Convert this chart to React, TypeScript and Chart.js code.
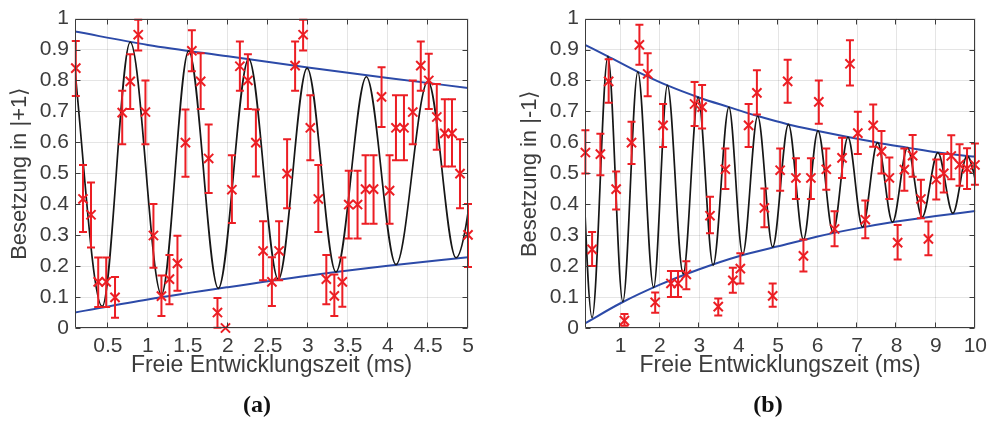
import React, { useEffect, useRef } from 'react';
import { Chart, registerables } from 'chart.js';

Chart.register(...registerables);

// ---------- Panel (a): |+1> ----------
const timeA = [0.1, 0.19, 0.29, 0.38, 0.48, 0.59, 0.68, 0.78, 0.88, 0.97, 1.07, 1.17, 1.27, 1.37, 1.47, 1.55, 1.66, 1.76, 1.87, 1.97, 2.05, 2.15, 2.25, 2.35, 2.44, 2.55, 2.64, 2.74, 2.84, 2.94, 3.03, 3.13, 3.23, 3.33, 3.43, 3.51, 3.62, 3.72, 3.82, 3.92, 4.02, 4.1, 4.2, 4.31, 4.41, 4.51, 4.61, 4.71, 4.8, 4.9, 5.0];
const popA = [0.84, 0.417, 0.366, 0.149, 0.149, 0.099, 0.696, 0.797, 0.948, 0.698, 0.299, 0.103, 0.158, 0.209, 0.599, 0.896, 0.797, 0.548, 0.05, 0.0, 0.447, 0.846, 0.8, 0.599, 0.249, 0.149, 0.249, 0.499, 0.848, 0.948, 0.647, 0.417, 0.158, 0.104, 0.149, 0.399, 0.399, 0.449, 0.449, 0.747, 0.444, 0.647, 0.647, 0.698, 0.848, 0.8, 0.682, 0.629, 0.629, 0.499, 0.301];
const errHiA = [0.928, 0.527, 0.47, 0.228, 0.228, 0.165, 0.767, 0.885, 0.996, 0.8, 0.401, 0.17, 0.236, 0.298, 0.706, 0.962, 0.888, 0.658, 0.097, 0.0, 0.558, 0.926, 0.885, 0.706, 0.345, 0.229, 0.345, 0.61, 0.926, 0.996, 0.752, 0.527, 0.236, 0.173, 0.228, 0.508, 0.508, 0.558, 0.558, 0.843, 0.558, 0.752, 0.752, 0.8, 0.926, 0.886, 0.789, 0.739, 0.739, 0.61, 0.401];
const errLoA = [0.75, 0.31, 0.26, 0.068, 0.068, 0.033, 0.594, 0.708, 0.897, 0.594, 0.195, 0.039, 0.077, 0.12, 0.489, 0.83, 0.708, 0.436, 0.001, 0.0, 0.339, 0.767, 0.708, 0.49, 0.154, 0.071, 0.154, 0.387, 0.767, 0.897, 0.542, 0.31, 0.077, 0.039, 0.069, 0.289, 0.289, 0.337, 0.337, 0.65, 0.337, 0.542, 0.542, 0.594, 0.767, 0.708, 0.576, 0.522, 0.522, 0.387, 0.197];
// fit curve: extrema
const fitTimeA = [0.05, 0.43, 0.78, 1.17, 1.51, 1.88, 2.26, 2.63, 2.99, 3.35, 3.73, 4.1, 4.5, 4.85, 5.22];
const fitPopA = [0.935, 0.07, 0.924, 0.108, 0.896, 0.128, 0.87, 0.157, 0.84, 0.181, 0.812, 0.205, 0.797, 0.227, 0.778];
const envTimeA = [0.09, 1, 2, 3, 4, 5];
const envUpperA = [0.958, 0.915, 0.878, 0.842, 0.808, 0.776];
const envLowerA = [0.05, 0.092, 0.132, 0.169, 0.201, 0.229];
const xTicksA = [0.5, 1, 1.5, 2, 2.5, 3, 3.5, 4, 4.5, 5];

// ---------- Panel (b): |-1> ----------
const timeB = [0.11, 0.28, 0.49, 0.7, 0.89, 1.1, 1.28, 1.48, 1.69, 1.88, 2.08, 2.28, 2.46, 2.67, 2.88, 3.07, 3.27, 3.48, 3.66, 3.85, 4.04, 4.25, 4.46, 4.65, 4.86, 5.05, 5.24, 5.45, 5.64, 5.83, 6.03, 6.22, 6.43, 6.62, 6.82, 7.02, 7.21, 7.41, 7.62, 7.82, 8.03, 8.2, 8.41, 8.62, 8.81, 9.01, 9.2, 9.39, 9.6, 9.79, 9.99];
const popB = [0.567, 0.254, 0.562, 0.797, 0.449, 0.024, 0.599, 0.915, 0.821, 0.083, 0.655, 0.144, 0.144, 0.173, 0.724, 0.714, 0.363, 0.069, 0.513, 0.154, 0.192, 0.655, 0.76, 0.388, 0.104, 0.51, 0.797, 0.485, 0.233, 0.485, 0.731, 0.513, 0.32, 0.55, 0.854, 0.63, 0.35, 0.655, 0.571, 0.485, 0.276, 0.512, 0.557, 0.417, 0.288, 0.48, 0.5, 0.556, 0.528, 0.515, 0.527];
const errHiB = [0.639, 0.31, 0.628, 0.869, 0.506, 0.045, 0.667, 0.98, 0.888, 0.115, 0.724, 0.184, 0.184, 0.216, 0.795, 0.785, 0.424, 0.095, 0.58, 0.195, 0.242, 0.724, 0.833, 0.451, 0.144, 0.58, 0.867, 0.549, 0.286, 0.549, 0.8, 0.58, 0.377, 0.615, 0.93, 0.699, 0.412, 0.722, 0.637, 0.551, 0.333, 0.58, 0.624, 0.479, 0.344, 0.545, 0.562, 0.623, 0.594, 0.581, 0.596];
const errLoB = [0.499, 0.2, 0.494, 0.728, 0.383, 0.007, 0.53, 0.851, 0.749, 0.049, 0.585, 0.1, 0.1, 0.125, 0.653, 0.645, 0.306, 0.04, 0.449, 0.114, 0.144, 0.585, 0.69, 0.326, 0.069, 0.444, 0.728, 0.417, 0.183, 0.417, 0.66, 0.447, 0.264, 0.485, 0.784, 0.562, 0.29, 0.586, 0.499, 0.417, 0.221, 0.444, 0.489, 0.355, 0.235, 0.415, 0.438, 0.481, 0.46, 0.449, 0.463];
const fitTimeB = [-0.08, 0.28, 0.68, 1.06, 1.44, 1.84, 2.19, 2.59, 2.97, 3.35, 3.75, 4.1, 4.48, 4.86, 5.26, 5.64, 6.01, 6.39, 6.77, 7.14, 7.52, 7.9, 8.28, 8.65, 9.05, 9.43, 9.79, 10.17];
const fitPopB = [0.93, 0.034, 0.878, 0.085, 0.828, 0.131, 0.784, 0.175, 0.746, 0.203, 0.714, 0.238, 0.685, 0.262, 0.658, 0.286, 0.637, 0.31, 0.617, 0.326, 0.599, 0.342, 0.583, 0.358, 0.567, 0.371, 0.556, 0.38];
const envUpperTimeB = [0.1, 0.68, 1.44, 2.19, 2.97, 3.75, 4.48, 5.26, 6.01, 6.77, 7.52, 8.28, 9.05, 9.79, 10];
const envUpperB = [0.915, 0.878, 0.828, 0.784, 0.746, 0.714, 0.685, 0.658, 0.637, 0.617, 0.599, 0.583, 0.567, 0.556, 0.554];
const envLowerTimeB = [0.1, 1, 2, 3, 4, 5, 6, 7, 8, 9, 10];
const envLowerB = [0.015, 0.08, 0.14, 0.19, 0.232, 0.264, 0.296, 0.322, 0.344, 0.362, 0.378];
const xTicksB = [1, 2, 3, 4, 5, 6, 7, 8, 9, 10];

const yTicks = [0, 0.1, 0.2, 0.3, 0.4, 0.5, 0.6, 0.7, 0.8, 0.9, 1];
const xLabel = 'Freie Entwicklungszeit (ms)';

const RED = 'rgb(236,30,36)';
const BLUE = 'rgb(44,74,168)';
const BLACK = '#161616';
const AXIS = '#3c3c3c';
const FONT = "'Liberation Sans', Arial, sans-serif";

type PanelSpec = {
  left: number;
  xMin: number;
  xMax: number;
  xTicks: number[];
  yLabel: string;
  t: number[]; p: number[]; hi: number[]; lo: number[];
  fitT: number[]; fitP: number[];
  upT: number[]; upP: number[];
  lowT: number[]; lowP: number[];
  caption: string;
  captionX: number;
};

const panels: PanelSpec[] = [
  {
    left: 0, xMin: 0.09, xMax: 5, xTicks: xTicksA, yLabel: 'Besetzung in |+1⟩',
    t: timeA, p: popA, hi: errHiA, lo: errLoA,
    fitT: fitTimeA, fitP: fitPopA,
    upT: envTimeA, upP: envUpperA, lowT: envTimeA, lowP: envLowerA,
    caption: '(a)', captionX: 257,
  },
  {
    left: 510, xMin: 0.1, xMax: 10, xTicks: xTicksB, yLabel: 'Besetzung in |-1⟩',
    t: timeB, p: popB, hi: errHiB, lo: errLoB,
    fitT: fitTimeB, fitP: fitPopB,
    upT: envUpperTimeB, upP: envUpperB, lowT: envLowerTimeB, lowP: envLowerB,
    caption: '(b)', captionX: 768,
  },
];

const zip = (xs: number[], ys: number[]) => xs.map((x, i) => ({ x, y: ys[i] }));

function Panel({ spec }: { spec: PanelSpec }) {
  const ref = useRef<HTMLCanvasElement>(null);
  useEffect(() => {
    const errorBars = {
      id: 'errorBars',
      afterDatasetsDraw(chart: any) {
        const { ctx, scales } = chart;
        ctx.save();
        ctx.strokeStyle = RED;
        ctx.lineWidth = 2;
        spec.t.forEach((tv, i) => {
          const x = scales.x.getPixelForValue(tv);
          const y1 = scales.y.getPixelForValue(spec.hi[i]);
          const y2 = scales.y.getPixelForValue(spec.lo[i]);
          if (Math.abs(y2 - y1) < 0.5) return;
          ctx.beginPath();
          ctx.moveTo(x, y1); ctx.lineTo(x, y2);
          ctx.moveTo(x - 4, y1); ctx.lineTo(x + 4, y1);
          ctx.moveTo(x - 4, y2); ctx.lineTo(x + 4, y2);
          ctx.stroke();
        });
        ctx.restore();
      },
    };
    const box = {
      id: 'box',
      afterDraw(chart: any) {
        const { ctx, chartArea: a, scales } = chart;
        ctx.save();
        ctx.strokeStyle = AXIS;
        ctx.lineWidth = 1;
        const L = Math.round(a.left) + 0.5, R = Math.round(a.right) - 0.5;
        const T = Math.round(a.top) + 0.5, B = Math.round(a.bottom) - 0.5;
        ctx.beginPath();
        ctx.rect(L, T, R - L, B - T);
        spec.xTicks.forEach((v) => {
          const x = Math.round(scales.x.getPixelForValue(v)) - 0.5;
          ctx.moveTo(x, B); ctx.lineTo(x, B - 5);
          ctx.moveTo(x, T); ctx.lineTo(x, T + 5);
        });
        yTicks.forEach((v) => {
          const y = Math.round(scales.y.getPixelForValue(v)) + 0.5;
          ctx.moveTo(L, y); ctx.lineTo(L + 5, y);
          ctx.moveTo(R, y); ctx.lineTo(R - 5, y);
        });
        ctx.stroke();
        ctx.restore();
      },
    };
    const chart = new Chart(ref.current!, {
      type: 'scatter',
      data: {
        datasets: [
          {
            type: 'scatter',
            data: zip(spec.t, spec.p),
            pointStyle: 'crossRot',
            pointRadius: 6.5,
            pointBorderWidth: 2,
            borderColor: RED,
            backgroundColor: RED,
            clip: false,
            order: 0,
          } as any,
          {
            type: 'line',
            data: zip(spec.fitT, spec.fitP),
            borderColor: BLACK,
            borderWidth: 1.7,
            pointRadius: 0,
            fill: false,
            cubicInterpolationMode: 'monotone',
            order: 1,
          },
          {
            type: 'line',
            data: zip(spec.upT, spec.upP),
            borderColor: BLUE,
            borderWidth: 2,
            pointRadius: 0,
            fill: false,
            cubicInterpolationMode: 'monotone',
            order: 2,
          },
          {
            type: 'line',
            data: zip(spec.lowT, spec.lowP),
            borderColor: BLUE,
            borderWidth: 2,
            pointRadius: 0,
            fill: false,
            cubicInterpolationMode: 'monotone',
            order: 3,
          },
        ],
      },
      options: {
        animation: false,
        responsive: false,
        events: [],
        layout: { padding: { left: 0, right: 15, top: 17, bottom: 42 } },
        plugins: { legend: { display: false }, tooltip: { enabled: false } },
        scales: {
          x: {
            type: 'linear',
            min: spec.xMin,
            max: spec.xMax,
            afterBuildTicks: (s: any) => { s.ticks = spec.xTicks.map((v) => ({ value: v })); },
            afterFit: (s: any) => { s.height = 51; },
            grid: { color: 'rgba(0,0,0,0.1)', drawTicks: false, lineWidth: 1 },
            border: { display: false },
            ticks: {
              color: AXIS,
              font: { family: FONT, size: 21 },
              padding: 6,
              maxRotation: 0,
              autoSkip: false,
              callback: (v: any) => String(v),
            },
            title: {
              display: true,
              text: xLabel,
              color: AXIS,
              font: { family: FONT, size: 23 },
              padding: { top: 0, bottom: 0 },
            },
          },
          y: {
            type: 'linear',
            min: 0,
            max: 1,
            afterBuildTicks: (s: any) => { s.ticks = yTicks.map((v) => ({ value: v })); },
            afterFit: (s: any) => { s.width = 75; },
            grid: { color: 'rgba(0,0,0,0.1)', drawTicks: false, lineWidth: 1 },
            border: { display: false },
            ticks: {
              color: AXIS,
              font: { family: FONT, size: 21 },
              padding: 6,
              autoSkip: false,
              callback: (v: any) => String(Math.round(v * 10) / 10),
            },
            title: {
              display: true,
              text: spec.yLabel,
              color: AXIS,
              font: { family: FONT, size: 22 },
              padding: { top: 7, bottom: 0 },
            },
          },
        },
      } as any,
      plugins: [errorBars, box],
    });
    return () => chart.destroy();
  }, []);
  return (
    <>
      <canvas
        ref={ref}
        width={483}
        height={421}
        style={{ position: 'absolute', left: spec.left, top: 0, width: 483, height: 421, display: 'block' }}
      />
      <div
        style={{
          position: 'absolute',
          left: spec.captionX - 50,
          width: 100,
          top: 391,
          textAlign: 'center',
          fontFamily: "'Liberation Serif', 'DejaVu Serif', serif",
          fontWeight: 'bold',
          fontSize: 24,
          lineHeight: '26px',
          color: '#111',
        }}
      >
        {spec.caption}
      </div>
    </>
  );
}

export default function App() {
  return (
    <div style={{ position: 'fixed', left: 0, top: 0, width: 993, height: 421, background: '#fff', overflow: 'hidden' }}>
      {panels.map((s, i) => (
        <Panel key={i} spec={s} />
      ))}
    </div>
  );
}
